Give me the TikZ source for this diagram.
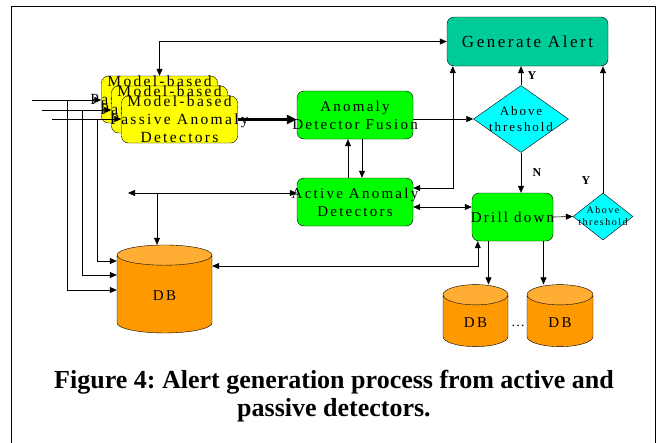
\documentclass[tikz,border=0pt]{standalone}
\usepackage{fontspec}
\setmainfont{Liberation Serif}
\newfontfamily\trackedfont[LetterSpace=15]{Liberation Serif}
\usetikzlibrary{shapes.geometric,arrows.meta,positioning}
\definecolor{alertteal}{RGB}{0,204,153}
\definecolor{boxgreen}{RGB}{0,255,0}
\definecolor{boxyellow}{RGB}{255,255,0}
\definecolor{decisioncyan}{RGB}{0,255,255}
\definecolor{dbbody}{RGB}{255,153,0}
\definecolor{dbtop}{RGB}{255,173,51}
\frenchspacing

\begin{document}
\begin{tikzpicture}[x=1pt, y=-1pt,
    procbox/.style={rectangle, draw, rounded corners=7pt, fill=boxgreen,
                 minimum width=116pt, minimum height=48pt, inner sep=0pt},
    boxtext/.style={label={[font=\trackedfont\fontsize{15}{18}\selectfont, align=center]center:#1}},
    passbox/.style={procbox, fill=boxyellow, minimum height=47pt,
                 label={[font=\trackedfont\fontsize{15.5}{18}\selectfont, align=center]center:Model-based\\Passive Anomaly\\Detectors}},
    decision/.style={diamond, draw, fill=decisioncyan, inner sep=0pt},
    dbstore/.style={cylinder, shape border rotate=90, draw, aspect=0.68,
                 cylinder uses custom fill, cylinder body fill=dbbody, cylinder end fill=dbtop,
                 font=\trackedfont\fontsize{15}{18}\selectfont},
    arr/.style={-{Triangle[length=7pt, width=6pt]}, semithick},
    dblarr/.style={{Triangle[length=7pt, width=6pt]}-{Triangle[length=7pt, width=6pt]}, semithick},
    yn/.style={font=\bfseries\fontsize{12}{14}\selectfont}
]
    \useasboundingbox (0,0) rectangle (658,442);
    \draw[semithick] (11,444) -- (11,6) -- (655,6) -- (655,444);

    % detectors
    \node[passbox] (pas1) at (159.5,99.5) {};
    \node[passbox] (pas2) at (169.5,109.5) {};
    \node[passbox] (pas3) at (179.5,119.5) {};
    \node[procbox, boxtext={Anomaly\\Detector Fusion}] (fusion) at (355,115) {};
    \node[procbox, boxtext={Active Anomaly\\Detectors}] (active) at (355,202) {};
    \node[procbox, fill=alertteal, minimum width=161pt, minimum height=49pt,
          label={[font=\trackedfont\fontsize{17}{20}\selectfont]center:Generate Alert}] (alert) at (527.5,41.5) {};
    \node[procbox, minimum width=81pt, boxtext={Drill down}] (drill) at (512.5,217) {};

    % decisions
    \node[decision, minimum width=95pt, minimum height=67pt,
          label={[font=\trackedfont\fontsize{13}{16}\selectfont, align=center]center:Above\\threshold}] (thr) at (521,119) {};
    \node[decision, minimum width=60pt, minimum height=47pt,
          label={[font=\trackedfont\fontsize{10}{12}\selectfont, align=center]center:Above\\threshold}] (thrsmall) at (603,216.5) {};

    % stores
    \node[dbstore, minimum width=95pt, minimum height=88pt] (db) at (164.5,296) {DB};
    \node[dbstore, minimum width=65pt, minimum height=62pt] (dbleft) at (475.5,323) {DB};
    \node[dbstore, minimum width=66pt, minimum height=62pt] (dbright) at (560,323) {DB};
    \node[font=\fontsize{14}{16}\selectfont] (dots) at (518,326) {\dots};

    % inputs
    \coordinate (in1) at (32,100);
    \coordinate (in2) at (42,110);
    \coordinate (in3) at (52,119);
    \coordinate (j1) at (67,100);
    \coordinate (j2) at (82,110);
    \coordinate (j3) at (97,119);
    \draw[arr] (in1) -- (in1 -| pas1.west);
    \draw[arr] (in2) -- (in2 -| pas2.west);
    \draw[arr] (in3) -- (in3 -| pas3.west);
    \draw[arr] (j1) |- ([yshift=6pt]db.west);
    \draw[arr] (j2) |- ([yshift=21pt]db.west);
    \draw[arr] (j3) |- ([yshift=35pt]db.west);

    \draw[dblarr] (pas1.north) |- (alert.west);
    \draw[-{Triangle[length=10pt, width=9pt]}, line width=2.2pt] (pas3.east) -- (pas3.east -| fusion.west);
    \draw[arr] (thr.west -| fusion.east) -- (thr.west);
    \draw[arr] ([xshift=-7pt]active.north) -- ([xshift=-7pt]fusion.south);
    \draw[arr] ([xshift=7pt]fusion.south) -- ([xshift=7pt]active.north);

    % active detectors
    \coordinate (aleft) at (128,193);
    \coordinate (adb) at (157,193);
    \draw[dblarr] (aleft) -- (aleft -| active.west);
    \draw[arr] (adb) -- (adb |- db.north);
    \draw[dblarr] ([yshift=14pt]active.east) -| ([xshift=6pt]alert.south west);
    \draw[dblarr] ([yshift=-5pt]active.east) -- ([yshift=-5pt]active.east -| drill.west);

    % decisions
    \draw[arr] (thr.north) -- (thr.north |- alert.south) node[yn, midway, right=3pt] {Y};
    \draw[arr] (thr.south) -- (thr.south |- drill.north) node[yn, midway, right=8pt] {N};
    \draw[arr] (drill.east) -- (thrsmall.west);
    \draw[arr] (thrsmall.north) -- (thrsmall.north |- alert.south);
    \node[yn] (ysmall) at (586,181) {Y};

    % drill down
    \draw[dblarr] ([yshift=30pt]db.east) -| ([xshift=6pt]drill.south west);
    \draw[arr] ([xshift=-24pt]drill.south) -- ([xshift=-24pt]drill.south |- dbleft.north);
    \draw[arr] ([xshift=31pt]drill.south) -- ([xshift=31pt]drill.south |- dbright.north);

    \node[font=\bfseries\fontsize{26}{28}\selectfont, align=center] (caption) at (334,396)
        {Figure 4: Alert generation process from active and\\passive detectors.};
\end{tikzpicture}
\end{document}
